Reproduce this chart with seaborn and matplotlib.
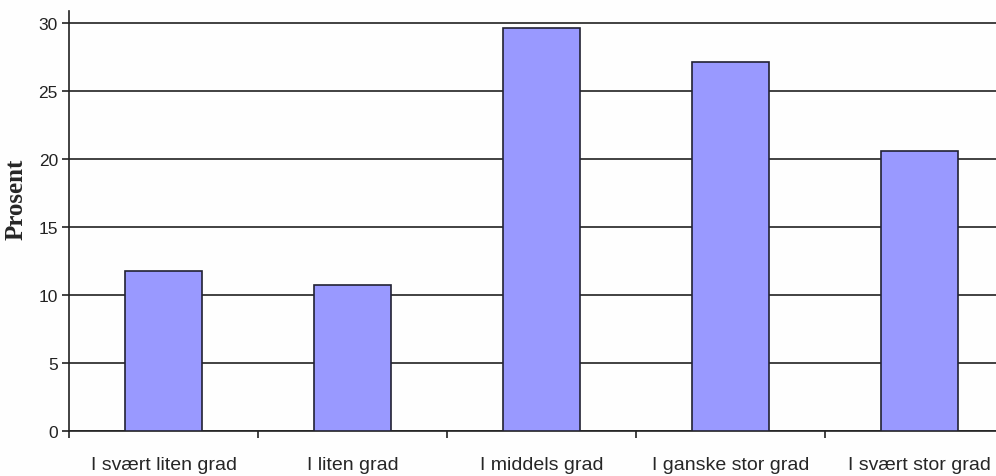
import matplotlib
matplotlib.use("Agg")
import matplotlib.pyplot as plt
import numpy as np
import pandas as pd
import seaborn as sns

# data
categories = ["I svært liten grad", "I liten grad", "I middels grad",
              "I ganske stor grad", "I svært stor grad"]
prosent = [11.8, 10.7, 29.6, 27.1, 20.6]
y_ticks = [0, 5, 10, 15, 20, 25, 30]

df = pd.DataFrame({"kategori": categories, "prosent": prosent})

sns.set_style("white")
plt.rcParams["font.family"] = ["Liberation Sans", "DejaVu Sans"]

fig = plt.figure(figsize=(9.96, 4.77), dpi=100)
fig.patch.set_facecolor("#fefefe")
# plot area runs past the right edge, as in the reference
ax = fig.add_axes([69 / 996, 45 / 477, 945 / 996, 420 / 477])
ax.set_facecolor("#fefefe")

sns.barplot(data=df, x="kategori", y="prosent", ax=ax, color="#9999ff",
            saturation=1, width=0.41, edgecolor="#222233", linewidth=1.2,
            zorder=3)

ax.set_ylim(0, 30 * 420 / 408)
ax.set_xlim(-0.5, 4.5)
ax.set_yticks(y_ticks)
ax.yaxis.grid(True, color="#222222", linewidth=1.2, zorder=0)
ax.set_axisbelow(True)

# x ticks at category boundaries, labels at centres
ax.set_xticks(np.arange(len(categories)))
ax.set_xticklabels(categories, fontsize=14)
ax.tick_params(axis="x", which="major", length=0, pad=18)
ax.set_xticks(np.arange(len(categories) + 1) - 0.5, minor=True)
ax.tick_params(axis="x", which="minor", length=5, width=1.2, color="#222222",
               direction="out", bottom=True)
ax.tick_params(axis="y", length=5, width=1.2, color="#222222", labelsize=12.5,
               left=True, pad=3)
for lbl in ax.get_yticklabels():
    lbl.set_color("#222222")

for side in ["top", "right"]:
    ax.spines[side].set_visible(False)
for side in ["left", "bottom"]:
    ax.spines[side].set_color("#222222")
    ax.spines[side].set_linewidth(1.2)

ax.set_xlabel("")
ax.set_ylabel("Prosent", fontsize=18, fontweight="bold",
              family=["Liberation Serif", "DejaVu Serif"])
ax.yaxis.set_label_coords(-0.044, 0.555)

fig.savefig("out.png", dpi=100, facecolor=fig.get_facecolor())
